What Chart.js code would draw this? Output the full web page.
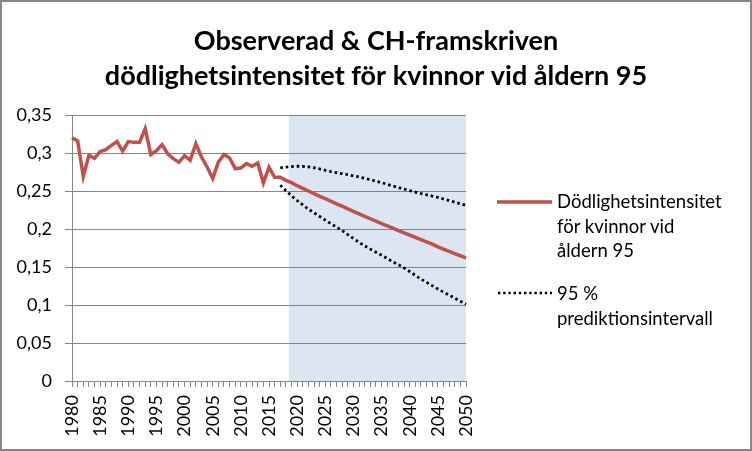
<!DOCTYPE html>
<html lang="sv">
<head>
<meta charset="utf-8">
<title>Dödlighetsintensitet kvinnor 95</title>
<script src="https://cdn.jsdelivr.net/npm/chart.js@4/dist/chart.umd.min.js"></script>
<style>
  html, body { margin: 0; padding: 0; background: #fff; }
  #ram { position: relative; width: 752px; height: 451px; font-family: Lato, "Open Sans", sans-serif; }
  #ram canvas { position: absolute; left: 0; top: 0; }
  #kant { position: absolute; left: 0; top: 0; right: 0; bottom: 0; border: 2px solid #878787; box-sizing: border-box; pointer-events: none; }
  .text { position: absolute; left: 557px; font-size: 18.5px; line-height: 24.5px; color: #000; white-space: nowrap; }
  .prov { position: absolute; left: 497px; width: 55px; height: 6px; }
</style>
</head>
<body>
<div id="ram">
  <canvas id="grafDod"></canvas>
  <svg class="prov" style="top:199px" width="55" height="6"><line x1="0" y1="3" x2="55" y2="3" stroke="#c0504d" stroke-width="3.5"/></svg>
  <div class="text" style="top:189px">Dödlighetsintensitet<br>för kvinnor vid<br>åldern 95</div>
  <svg class="prov" style="top:290px" width="55" height="6"><line x1="1" y1="3" x2="55" y2="3" stroke="#000" stroke-width="2.6" stroke-dasharray="2.4 2.8"/></svg>
  <div class="text" style="top:281px">95 %<br>prediktionsintervall</div>
  <div id="kant"></div>
</div>
<script>
// kategorier (år)
const ar = [
  1980, 1981, 1982, 1983, 1984, 1985, 1986, 1987, 1988, 1989,
  1990, 1991, 1992, 1993, 1994, 1995, 1996, 1997, 1998, 1999,
  2000, 2001, 2002, 2003, 2004, 2005, 2006, 2007, 2008, 2009,
  2010, 2011, 2012, 2013, 2014, 2015, 2016, 2017, 2018, 2019,
  2020, 2021, 2022, 2023, 2024, 2025, 2026, 2027, 2028, 2029,
  2030, 2031, 2032, 2033, 2034, 2035, 2036, 2037, 2038, 2039,
  2040, 2041, 2042, 2043, 2044, 2045, 2046, 2047, 2048, 2049,
  2050
];

// observerad dödlighetsintensitet 1980-2017
const observerad = [
  0.320, 0.316, 0.269, 0.297, 0.293, 0.302, 0.3045, 0.310, 0.315, 0.3026,
  0.315, 0.314, 0.314, 0.332, 0.298, 0.303, 0.311, 0.299, 0.2926, 0.288,
  0.2966, 0.2904, 0.3123, 0.2948, 0.2816, 0.2664, 0.288, 0.298, 0.2934, 0.2795,
  0.2803, 0.286, 0.2825, 0.2869, 0.2606, 0.2813, 0.268, 0.268
];

// CH-framskrivning 2018-2050
const framskriven = [
  0.264, 0.261, 0.257, 0.2535, 0.250, 0.2465, 0.243, 0.240, 0.2365, 0.233,
  0.230, 0.2265, 0.2233, 0.220, 0.2167, 0.2135, 0.2103, 0.207, 0.204, 0.201,
  0.198, 0.195, 0.192, 0.189, 0.186, 0.183, 0.180, 0.1765, 0.1735, 0.1705,
  0.1675, 0.1648, 0.162
];

// 95 % prediktionsintervall 2017-2050
const intervallFran = 2017;
const ovreGrans = [
  0.2805, 0.2815, 0.2822, 0.2826, 0.2825, 0.2818, 0.2806, 0.279, 0.2772, 0.2755,
  0.2742, 0.2728, 0.2715, 0.270, 0.2685, 0.2668, 0.2648, 0.263, 0.261, 0.2588,
  0.2566, 0.2545, 0.2525, 0.2505, 0.2485, 0.2467, 0.245, 0.2433, 0.2415, 0.2395,
  0.2375, 0.2354, 0.2332, 0.231
];
const nedreGrans = [
  0.2575, 0.2505, 0.2435, 0.2375, 0.2318, 0.2261, 0.2213, 0.2165, 0.2117, 0.207,
  0.2024, 0.1978, 0.1927, 0.1876, 0.1825, 0.1779, 0.1735, 0.1695, 0.1655, 0.1612,
  0.1568, 0.153, 0.1487, 0.144, 0.139, 0.134, 0.1298, 0.1255, 0.121, 0.117,
  0.113, 0.109, 0.105, 0.101
];

// skuggat prognosområde (börjar mitt emellan 2018 och 2019)
const prognosFran = 2019;
const yMax = 0.35;

const rubrik = ["Observerad & CH-framskriven", "dödlighetsintensitet för kvinnor vid åldern 95"];

const fyll = (fran) => ar.filter((a) => a < fran).map(() => null);
const dodlighet = observerad.concat(framskriven);
const ovre = fyll(intervallFran).concat(ovreGrans);
const nedre = fyll(intervallFran).concat(nedreGrans);
// ett steg upp vid halva året före prognosstart, fylls ned till 0
const skugga = ar.map((a) => (a >= prognosFran ? yMax : a === prognosFran - 1 ? 0 : null));

Chart.defaults.font.family = 'Lato, "Open Sans", sans-serif';
Chart.defaults.color = "#000";

const ctx = document.getElementById("grafDod").getContext("2d");

new Chart(ctx, {
  type: "line",
  data: {
    labels: ar,
    datasets: [
      {
        label: "prognos",
        data: skugga,
        stepped: "middle",
        fill: "origin",
        backgroundColor: "rgba(79,129,189,0.2)",
        borderWidth: 0,
        borderColor: "rgba(0,0,0,0)",
        pointRadius: 0,
        order: 5,
      },
      {
        label: "Dödlighetsintensitet för kvinnor vid åldern 95",
        data: dodlighet,
        borderColor: "#c0504d",
        borderWidth: 3.5,
        pointRadius: 0,
        tension: 0,
        order: 1,
      },
      {
        label: "95 % prediktionsintervall",
        data: ovre,
        borderColor: "#000",
        borderWidth: 2.8,
        borderDash: [2.6, 2.9],
        pointRadius: 0,
        order: 2,
      },
      {
        label: "95 % prediktionsintervall (nedre)",
        data: nedre,
        borderColor: "#000",
        borderWidth: 2.8,
        borderDash: [2.6, 2.9],
        pointRadius: 0,
        order: 2,
      },
    ],
  },
  options: {
    responsive: true,
    maintainAspectRatio: false,
    animation: false,
    layout: { padding: 0 },
    plugins: {
      legend: { display: false },
      tooltip: { enabled: false },
      title: {
        display: true,
        text: rubrik,
        color: "#000",
        font: { size: 27, weight: "bold", lineHeight: 1.3 },
        padding: { top: 24, bottom: 20.8 },
      },
    },
    scales: {
      x: {
        offset: false,
        grid: { offset: false, drawOnChartArea: false, color: "#868686", tickLength: 6 },
        border: { color: "#868686" },
        ticks: {
          autoSkip: false,
          minRotation: 90,
          maxRotation: 90,
          padding: 8,
          font: { size: 18 },
          callback: function (v, i) {
            return ar[i] % 5 === 0 ? String(ar[i]) : "";
          },
        },
        afterFit: function (s) {
          s.height = 70;
        },
      },
      y: {
        min: 0,
        max: yMax,
        grid: { color: "#868686", tickLength: 7 },
        border: { color: "#868686" },
        ticks: {
          stepSize: 0.05,
          padding: 13,
          font: { size: 18 },
          callback: function (v) {
            return String(parseFloat(v.toFixed(2))).replace(".", ",");
          },
        },
        afterFit: function (s) {
          s.width = 72;
        },
      },
      hoger: {
        axis: "y",
        position: "right",
        grid: { display: false },
        border: { display: false },
        ticks: { display: false },
        afterFit: function (s) {
          s.width = 286;
        },
      },
    },
  },
});
</script>
</body>
</html>
